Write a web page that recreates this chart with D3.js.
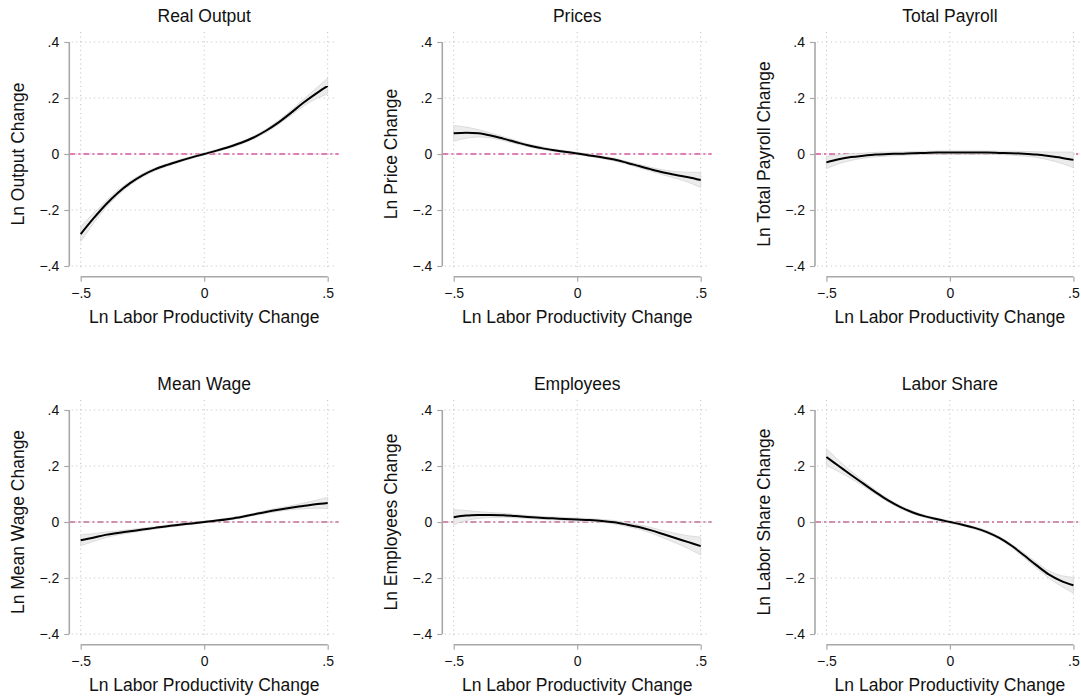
<!DOCTYPE html>
<html>
<head>
<meta charset="utf-8">
<script src="https://cdn.jsdelivr.net/npm/d3@7"></script>
<style>
  html, body { margin: 0; padding: 0; background: #fff; }
  svg { display: block; font-family: "Liberation Sans", Arial, Helvetica, sans-serif; }
</style>
</head>
<body>
<svg id="chart" width="1081" height="700"></svg>
<script>
// ---------- data ----------
const xs = [-0.50,-0.45,-0.40,-0.35,-0.30,-0.25,-0.20,-0.15,-0.10,-0.05,0.00,0.05,0.10,0.15,0.20,0.25,0.30,0.35,0.40,0.45,0.50];

const titles = ["Real Output","Prices","Total Payroll","Mean Wage","Employees","Labor Share"];
const yTitles = ["Ln Output Change","Ln Price Change","Ln Total Payroll Change","Ln Mean Wage Change","Ln Employees Change","Ln Labor Share Change"];
const xTitle = "Ln Labor Productivity Change";

const xTickValues = [-0.5, 0, 0.5];
const xTickLabels = ["\u2212.5", "0", ".5"];
const yTickValues = [0.4, 0.2, 0, -0.2, -0.4];
const yTickLabels = [".4", ".2", "0", "\u2212.2", "\u2212.4"];

const outputFit = [-0.286,-0.232,-0.182,-0.139,-0.104,-0.076,-0.055,-0.039,-0.025,-0.012,0.000,0.012,0.025,0.040,0.059,0.083,0.112,0.146,0.182,0.214,0.243];
const outputLo  = [-0.313,-0.250,-0.194,-0.148,-0.111,-0.082,-0.060,-0.044,-0.029,-0.016,-0.004,0.008,0.021,0.035,0.054,0.077,0.105,0.137,0.170,0.196,0.215];
const outputHi  = [-0.259,-0.214,-0.170,-0.130,-0.097,-0.070,-0.050,-0.034,-0.021,-0.008,0.004,0.016,0.029,0.045,0.064,0.089,0.119,0.155,0.194,0.232,0.271];

const priceFit = [0.074,0.076,0.074,0.066,0.055,0.043,0.031,0.022,0.014,0.008,0.002,-0.005,-0.012,-0.020,-0.031,-0.043,-0.055,-0.066,-0.075,-0.083,-0.093];
const priceLo  = [0.046,0.056,0.061,0.057,0.048,0.037,0.026,0.017,0.010,0.004,-0.002,-0.009,-0.016,-0.025,-0.036,-0.049,-0.062,-0.075,-0.087,-0.101,-0.120];
const priceHi  = [0.102,0.096,0.087,0.075,0.062,0.049,0.036,0.027,0.018,0.012,0.006,-0.001,-0.008,-0.015,-0.026,-0.037,-0.048,-0.057,-0.063,-0.065,-0.066];

const payrollFit = [-0.030,-0.019,-0.011,-0.006,-0.002,0.000,0.001,0.003,0.004,0.005,0.005,0.005,0.005,0.005,0.004,0.003,0.001,-0.002,-0.007,-0.013,-0.021];
const payrollLo  = [-0.052,-0.035,-0.023,-0.015,-0.010,-0.007,-0.005,-0.003,-0.002,-0.001,-0.001,-0.001,-0.001,-0.001,-0.002,-0.004,-0.007,-0.012,-0.021,-0.033,-0.049];
const payrollHi  = [-0.008,-0.003,0.001,0.003,0.006,0.007,0.007,0.009,0.010,0.011,0.011,0.011,0.011,0.011,0.010,0.010,0.009,0.008,0.007,0.007,0.007];

const wageFit = [-0.065,-0.056,-0.046,-0.039,-0.033,-0.027,-0.021,-0.015,-0.010,-0.005,0.000,0.005,0.011,0.018,0.027,0.036,0.044,0.051,0.057,0.063,0.068];
const wageLo  = [-0.085,-0.070,-0.056,-0.046,-0.039,-0.032,-0.025,-0.019,-0.014,-0.008,-0.003,0.002,0.007,0.014,0.023,0.031,0.038,0.044,0.047,0.049,0.048];
const wageHi  = [-0.045,-0.042,-0.036,-0.032,-0.027,-0.022,-0.017,-0.011,-0.006,-0.002,0.003,0.008,0.015,0.022,0.031,0.041,0.050,0.058,0.067,0.077,0.088];

const employeesFit = [0.017,0.023,0.025,0.025,0.024,0.021,0.018,0.015,0.013,0.011,0.009,0.007,0.004,-0.001,-0.009,-0.018,-0.030,-0.044,-0.058,-0.072,-0.086];
const employeesLo  = [-0.010,0.005,0.013,0.016,0.017,0.015,0.013,0.010,0.008,0.006,0.004,0.002,-0.001,-0.007,-0.016,-0.026,-0.040,-0.057,-0.075,-0.095,-0.118];
const employeesHi  = [0.044,0.041,0.037,0.034,0.031,0.027,0.023,0.020,0.018,0.016,0.014,0.012,0.009,0.005,-0.002,-0.010,-0.020,-0.031,-0.041,-0.049,-0.054];

const shareFit = [0.232,0.200,0.168,0.137,0.106,0.077,0.053,0.034,0.020,0.0095,0.000,-0.0095,-0.021,-0.036,-0.057,-0.085,-0.119,-0.154,-0.187,-0.210,-0.226];
const shareLo  = [0.202,0.180,0.155,0.128,0.099,0.071,0.048,0.029,0.016,0.0055,-0.004,-0.0135,-0.025,-0.041,-0.062,-0.091,-0.127,-0.164,-0.200,-0.229,-0.254];
const shareHi  = [0.262,0.220,0.181,0.146,0.113,0.083,0.058,0.039,0.024,0.0135,0.004,-0.0055,-0.017,-0.031,-0.052,-0.079,-0.111,-0.144,-0.174,-0.191,-0.198];

const fits = [outputFit, priceFit, payrollFit, wageFit, employeesFit, shareFit];
const los  = [outputLo, priceLo, payrollLo, wageLo, employeesLo, shareLo];
const his  = [outputHi, priceHi, payrollHi, wageHi, employeesHi, shareHi];

// ---------- layout ----------
const colLeft = [0, 360.3, 720.7];
const yAxisX = [69.3, 82, 94.3];
const rowTop = [0, 368];
const plotW = 247;
const yTopPx = 42, yBotPx = 266;
const refColors = ["#d9559f", "#c46e9c"];

const svg = d3.select("#chart");

for (let i = 0; i < 6; i++) {
  const r = Math.floor(i / 3), c = i % 3;
  const g = svg.append("g").attr("transform", `translate(${colLeft[c]},${rowTop[r]})`);
  const ax = yAxisX[c];
  const x = d3.scaleLinear().domain([-0.5, 0.5]).range([ax + 11.4, ax + 11.4 + plotW]);
  const y = d3.scaleLinear().domain([-0.4, 0.4]).range([yBotPx, yTopPx]);

  // gridlines
  const grid = g.append("g");
  grid.selectAll("line.hg").data(yTickValues).join("line")
    .attr("x1", x(-0.5) - 9).attr("x2", x(0.5) + 6)
    .attr("y1", d => y(d)).attr("y2", d => y(d))
    .attr("stroke", "#bdbdbd").attr("stroke-width", 1).attr("stroke-dasharray", "1,3.5");
  grid.selectAll("line.vg").data(xTickValues).join("line")
    .attr("x1", d => x(d)).attr("x2", d => x(d))
    .attr("y1", yTopPx - 10).attr("y2", yBotPx + 3)
    .attr("stroke", "#bdbdbd").attr("stroke-width", 1).attr("stroke-dasharray", "1,3.5");

  // reference line at zero
  g.append("line")
    .attr("x1", ax).attr("x2", x(0.5) + 11)
    .attr("y1", y(0)).attr("y2", y(0))
    .attr("stroke", refColors[r]).attr("stroke-width", 1.3)
    .attr("stroke-dasharray", "6,3,2,3");

  // CI band
  const pts = xs.map((v, k) => ({x: v, y: fits[i][k], lo: los[i][k], hi: his[i][k]}));
  const area = d3.area().x(d => x(d.x)).y0(d => y(d.lo)).y1(d => y(d.hi)).curve(d3.curveCatmullRom);
  g.append("path").datum(pts).attr("d", area)
    .attr("fill", "#ececec").attr("stroke", "#d6d6d6").attr("stroke-width", 0.8);

  // fitted line
  const line = d3.line().x(d => x(d.x)).y(d => y(d.y)).curve(d3.curveCatmullRom);
  g.append("path").datum(pts).attr("d", line)
    .attr("fill", "none").attr("stroke", "#000").attr("stroke-width", 2);

  // y axis
  const yAxis = d3.axisLeft(y).tickValues(yTickValues)
    .tickFormat((d, k) => yTickLabels[k]).tickSize(5).tickPadding(5);
  const ya = g.append("g").attr("transform", `translate(${ax},0)`).call(yAxis);
  ya.select(".domain").attr("d", `M0,${yTopPx}V${yBotPx}`).attr("stroke", "#a8a8a8").attr("stroke-width", 1.6);
  ya.selectAll(".tick line").attr("stroke", "#a8a8a8").attr("stroke-width", 1.2);
  ya.selectAll(".tick text").attr("font-size", 14).attr("fill", "#111")
    .attr("font-family", "'Liberation Sans', Arial, sans-serif");

  // x axis
  const xAxisY = yBotPx + 10.7;
  const xAxis = d3.axisBottom(x).tickValues(xTickValues)
    .tickFormat((d, k) => xTickLabels[k]).tickSize(5).tickPadding(6);
  const xa = g.append("g").attr("transform", `translate(0,${xAxisY})`).call(xAxis);
  xa.select(".domain").attr("d", `M${x(-0.5)},0H${x(0.5)}`).attr("stroke", "#a8a8a8").attr("stroke-width", 1.6);
  xa.selectAll(".tick line").attr("stroke", "#a8a8a8").attr("stroke-width", 1.2);
  xa.selectAll(".tick text").attr("font-size", 14).attr("fill", "#111")
    .attr("font-family", "'Liberation Sans', Arial, sans-serif");

  // titles
  g.append("text").attr("x", x(0)).attr("y", 22)
    .attr("text-anchor", "middle").attr("font-size", 17.5).attr("fill", "#111")
    .text(titles[i]);
  g.append("text").attr("x", x(0)).attr("y", xAxisY + 46)
    .attr("text-anchor", "middle").attr("font-size", 17.5).attr("fill", "#111")
    .text(xTitle);
  g.append("text")
    .attr("transform", `translate(${ax - 51},${y(0)}) rotate(-90)`)
    .attr("text-anchor", "middle").attr("dominant-baseline", "central")
    .attr("font-size", 17.5).attr("fill", "#111")
    .text(yTitles[i]);
}
</script>
</body>
</html>
